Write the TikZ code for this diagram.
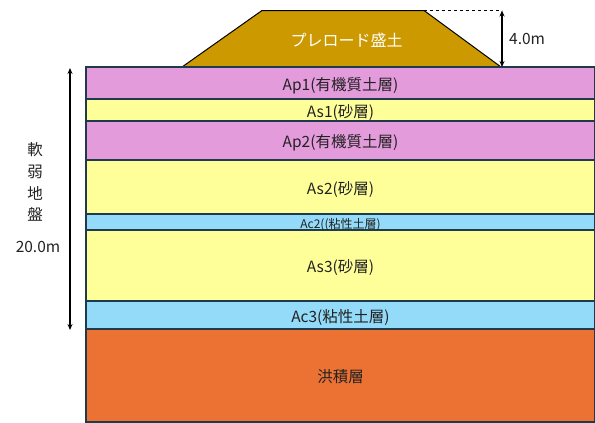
\documentclass[tikz,border=0pt]{standalone}
\usepackage{fontspec}
\setmainfont{Noto Sans CJK JP}
\usetikzlibrary{arrows.meta}
\definecolor{pinkL}{HTML}{E39BDB}
\definecolor{yellowL}{HTML}{FFFF99}
\definecolor{blueL}{HTML}{93DBF9}
\definecolor{orangeL}{HTML}{EB7233}
\definecolor{fillL}{HTML}{CC9900}
\definecolor{edgeL}{HTML}{1F3A4D}
\definecolor{txtL}{HTML}{222222}
\tikzset{
  x=1pt,y=-1pt,
  layer/.style={draw=edgeL,line width=1.2pt,minimum width=509pt,inner sep=0pt,outer sep=0pt,anchor=north west,text=txtL,text height=14pt,text depth=0pt,font=\fontsize{15.5}{15.5}\selectfont},
  dim/.style={line width=1.2pt,{Stealth[length=6pt,width=5pt]}-{Stealth[length=6pt,width=5pt]}},
  lbl/.style={inner sep=0pt,text=txtL,text height=14pt,text depth=0pt,font=\fontsize{15.5}{15.5}\selectfont}
}
\begin{document}
\begin{tikzpicture}
\useasboundingbox (0,0) rectangle (595,423);
\draw[draw=black,line width=1pt,fill=fillL] (182,67) -- (262,10.5) -- (424,10.5) -- (501,67) -- cycle;
\node[inner sep=0pt,text=white,text height=14pt,text depth=0pt,font=\fontsize{16}{16}\selectfont] (fill) at (346.5,39) {プレロード盛土};
\node[layer,fill=orangeL,minimum height=93pt] (dil) at (86,329) {洪積層};
\node[layer,fill=blueL,minimum height=28pt] (ac3) at (86,301) {Ac3(粘性土層)};
\node[layer,fill=yellowL,minimum height=71pt] (as3) at (86,230) {As3(砂層)};
\node[layer,fill=blueL,minimum height=16pt,text height=12pt,font=\fontsize{12}{12}\selectfont] (ac2) at (86,214) {Ac2((粘性土層)};
\node[layer,fill=yellowL,minimum height=54pt] (as2) at (86,160) {As2(砂層)};
\node[layer,fill=pinkL,minimum height=39pt] (ap2) at (86,121) {Ap2(有機質土層)};
\node[layer,fill=yellowL,minimum height=22pt] (as1) at (86,99) {As1(砂層)};
\node[layer,fill=pinkL,minimum height=32pt] (ap1) at (86,67) {Ap1(有機質土層)};
\coordinate (softT) at (70,68);
\coordinate (softB) at (70,330);
\draw[dim] (softT) -- (softB);
\coordinate (topR) at (502,10.5);
\coordinate (botR) at (502,67);
\draw[dashed,line width=1pt] (424,10.5) -- (topR);
\draw[dim] (topR) -- (botR);
\node[lbl,anchor=west] (h) at (509,38) {4.0m};
\node[lbl] (k1) at (35,148) {軟};
\node[lbl] (k2) at (35,170) {弱};
\node[lbl] (k3) at (35,192) {地};
\node[lbl] (k4) at (35,213) {盤};
\node[lbl] (k5) at (38,245) {20.0m};
\end{tikzpicture}
\end{document}
